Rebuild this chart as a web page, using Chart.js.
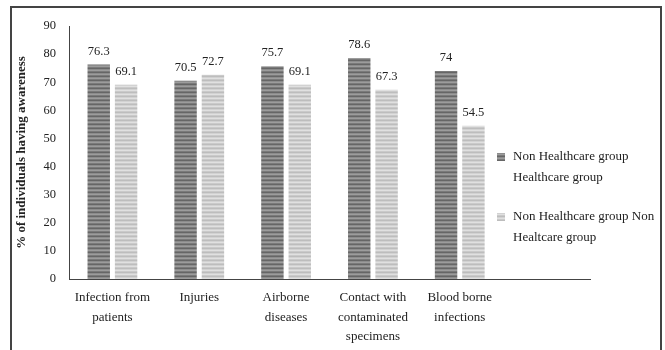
<!DOCTYPE html>
<html>
<head>
<meta charset="utf-8">
<script src="https://cdn.jsdelivr.net/npm/chart.js@4.4.0/dist/chart.umd.min.js"></script>
<style>
body{margin:0;overflow:hidden;background:#fff;}
#wrap{position:relative;width:665px;height:350px;}
#frame{position:absolute;left:10px;top:6px;width:648px;height:400px;border:2px solid #444;pointer-events:none;}
</style>
</head>
<body>
<div id="wrap"><canvas id="chartjs1" width="665" height="350"></canvas><div id="frame"></div></div>
<script>
const categories = [["Infection from","patients"],"Injuries",["Airborne","diseases"],["Contact with","contaminated","specimens"],["Blood borne","infections"],""];
const healthcareVals = [76.3,70.5,75.7,78.6,74,null];
const nonHealthcareVals = [69.1,72.7,69.1,67.3,54.5,null];
const seriesNames = [["Non Healthcare group","Healthcare group"],["Non Healthcare group Non","Healtcare group"]];
const yMax = 90;
const yStep = 10;
const yTitle = "% of individuals having awareness";

var canvas1 = document.getElementById("chartjs1");
var ctx1 = canvas1.getContext("2d");

// striped fill like the original bars
function stripes(cols) {
	var c = document.createElement("canvas");
	c.width = 4; c.height = cols.length;
	var x = c.getContext("2d");
	cols.forEach(function(col, i) { x.fillStyle = col; x.fillRect(0, i, 4, 1); });
	return ctx1.createPattern(c, "repeat");
}
var darkFill = stripes(["#666666", "#8c8c8c", "#9c9c9c", "#7a7a7a"]);
var lightFill = stripes(["#bdbdbd", "#d2d2d2", "#e0e0e0", "#cacaca"]);
var fills = [darkFill, lightFill];

const valueLabels = {
	id: "valueLabels",
	afterDatasetsDraw(chart) {
		var ctx = chart.ctx;
		ctx.save();
		ctx.font = '12.5px "Liberation Serif"';
		ctx.fillStyle = "#222";
		ctx.textAlign = "center";
		ctx.textBaseline = "alphabetic";
		chart.data.datasets.forEach(function(ds, i) {
			chart.getDatasetMeta(i).data.forEach(function(bar, j) {
				if (ds.data[j] == null) return;
				ctx.fillText(String(ds.data[j]), bar.x, bar.y - 10);
			});
		});
		ctx.restore();
	}
};

const sideLegend = {
	id: "sideLegend",
	afterDraw(chart) {
		var ctx = chart.ctx;
		var tops = [153, 213];
		ctx.save();
		ctx.font = '13px "Liberation Serif"';
		ctx.textBaseline = "middle";
		seriesNames.forEach(function(lines, i) {
			ctx.fillStyle = fills[i];
			ctx.fillRect(497, tops[i], 8, 8);
			ctx.fillStyle = "#222";
			lines.forEach(function(t, k) {
				ctx.fillText(t, 513, tops[i] + 4 + k * 21);
			});
		});
		ctx.restore();
	}
};

var myChart = new Chart(canvas1, {
	type: "bar",
	data: {
		labels: categories,
		datasets: [{
			label: seriesNames[0].join(" "),
			data: healthcareVals,
			backgroundColor: darkFill,
			borderWidth: 0
		}, {
			label: seriesNames[1].join(" "),
			data: nonHealthcareVals,
			backgroundColor: lightFill,
			borderWidth: 0
		}]
	},
	options: {
		responsive: false,
		animation: false,
		devicePixelRatio: 1,
		categoryPercentage: 0.63,
		barPercentage: 0.82,
		layout: { padding: { top: 26, right: 75, left: 0, bottom: 0 } },
		plugins: { legend: { display: false }, tooltip: { enabled: false } },
		scales: {
			x: {
				grid: { display: false, drawTicks: false },
				border: { color: "#444", width: 1 },
				ticks: { color: "#222", padding: 9, maxRotation: 0, autoSkip: false, font: { family: "Liberation Serif", size: 13, lineHeight: 1.5 } },
				afterFit: function(s) { s.height = 71; }
			},
			y: {
				min: 0, max: yMax,
				grid: { display: false, drawTicks: false },
				border: { color: "#444", width: 1 },
				ticks: { stepSize: yStep, color: "#222", padding: 13, font: { family: "Liberation Serif", size: 12.5 } },
				title: { display: true, text: yTitle, color: "#222", padding: { top: 14, bottom: 0 }, font: { family: "Liberation Serif", size: 13, weight: "bold" } },
				afterFit: function(s) { s.width = 69; }
			}
		}
	},
	plugins: [valueLabels, sideLegend]
});
</script>
</body>
</html>
